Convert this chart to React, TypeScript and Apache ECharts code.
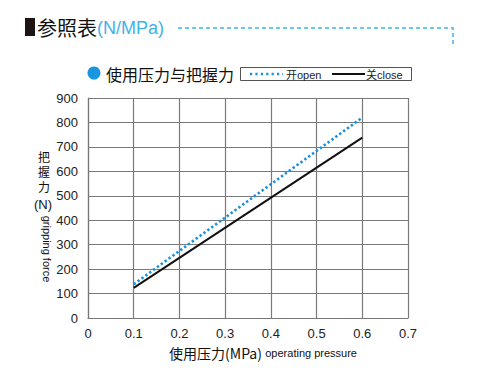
import React, { useEffect, useRef } from "react";
import * as echarts from "echarts";

const pressure = [0.1, 0.6];
const openForce = [138, 820];
const closeForce = [123, 738];
const seriesNames = ["开open", "关close"];
const xTicks = [0, 0.1, 0.2, 0.3, 0.4, 0.5, 0.6, 0.7];

const CJK = '"Noto Sans CJK SC", "Liberation Sans", sans-serif';
const SANS = '"Liberation Sans", Arial, "Noto Sans CJK SC", sans-serif';
const OPEN_COLOR = "#1a8fe0";
const OPEN_DASH = [2.4, 2.4];

export default function App() {
  const ref = useRef<HTMLDivElement>(null);
  useEffect(() => {
    if (!ref.current) return;
    const chart = echarts.init(ref.current, undefined, { renderer: "svg" });
    chart.setOption({
      animation: false,
      backgroundColor: "#fff",
      grid: { left: 88, right: 70, top: 98, bottom: 58, containLabel: false },
      xAxis: {
        type: "value",
        min: xTicks[0],
        max: xTicks[xTicks.length - 1],
        interval: 0.1,
        axisLine: { show: true, lineStyle: { color: "#777", width: 1.2 } },
        axisTick: { show: false },
        splitLine: { show: true, lineStyle: { color: "#7a7a7a", width: 1.2 } },
        axisLabel: { color: "#222", fontSize: 13, fontFamily: SANS, margin: 9 },
      },
      yAxis: {
        type: "value",
        min: 0,
        max: 900,
        interval: 100,
        axisLine: { show: true, lineStyle: { color: "#777", width: 1.2 } },
        axisTick: { show: false },
        splitLine: { show: true, lineStyle: { color: "#7a7a7a", width: 1.2 } },
        axisLabel: { color: "#222", fontSize: 13, fontFamily: SANS, margin: 10 },
      },
      series: [
        {
          name: seriesNames[0],
          type: "line",
          data: pressure.map((p, i) => [p, openForce[i]]),
          showSymbol: false,
          symbol: "none",
          lineStyle: { color: OPEN_COLOR, width: 2.6, type: OPEN_DASH },
          itemStyle: { color: OPEN_COLOR },
        },
        {
          name: seriesNames[1],
          type: "line",
          data: pressure.map((p, i) => [p, closeForce[i]]),
          showSymbol: false,
          symbol: "none",
          lineStyle: { color: "#111", width: 2 },
          itemStyle: { color: "#111" },
        },
      ],
      graphic: [
        { type: "rect", shape: { x: 25, y: 18, width: 10, height: 18 }, style: { fill: "#1e1414" } },
        {
          type: "text",
          x: 37,
          y: 27,
          style: { text: "参照表", font: `20px ${CJK}`, fill: "#111", verticalAlign: "middle" },
        },
        {
          type: "text",
          x: 97,
          y: 28,
          style: { text: "(N/MPa)", font: `18px ${SANS}`, fill: "#3fb2ea", verticalAlign: "middle" },
        },
        {
          type: "polyline",
          shape: { points: [[178, 28], [453, 28], [453, 47]] },
          style: { stroke: "#3fb2ea", lineWidth: 1.5, lineDash: [4, 3], fill: "none" },
        },
        { type: "circle", shape: { cx: 94, cy: 73, r: 6.5 }, style: { fill: "#1a96e0" } },
        {
          type: "text",
          x: 106,
          y: 74,
          style: { text: "使用压力与把握力", font: `16px ${CJK}`, fill: "#111", verticalAlign: "middle" },
        },
        // legend
        {
          type: "rect",
          shape: { x: 240.5, y: 67.5, width: 171, height: 13 },
          style: { fill: "#fff", stroke: "#555", lineWidth: 1 },
        },
        {
          type: "line",
          shape: { x1: 250, y1: 74, x2: 283, y2: 74 },
          style: { stroke: OPEN_COLOR, lineWidth: 2.4, lineDash: [2.2, 3.2] },
        },
        {
          type: "text",
          x: 286,
          y: 74.5,
          style: { text: seriesNames[0], font: `11px ${SANS}`, fill: "#222", verticalAlign: "middle" },
        },
        {
          type: "line",
          shape: { x1: 332, y1: 74, x2: 365, y2: 74 },
          style: { stroke: "#111", lineWidth: 2 },
        },
        {
          type: "text",
          x: 366,
          y: 74.5,
          style: { text: seriesNames[1], font: `11px ${SANS}`, fill: "#222", verticalAlign: "middle" },
        },
        // y-axis name
        {
          type: "text",
          x: 44,
          y: 150,
          style: {
            text: "把\n握\n力",
            font: `12px ${SANS}`,
            lineHeight: 15,
            fill: "#111",
            align: "center",
            verticalAlign: "top",
          },
        },
        {
          type: "text",
          x: 43,
          y: 204,
          style: { text: "(N)", font: `13px ${SANS}`, fill: "#111", align: "center", verticalAlign: "middle" },
        },
        {
          type: "text",
          x: 47,
          y: 249,
          rotation: -Math.PI / 2,
          style: { text: "gripping force", font: `11px ${SANS}`, fill: "#111", align: "center", verticalAlign: "middle" },
        },
        {
          type: "text",
          x: 263,
          y: 353,
          style: {
            text: "{a|使用压力(MPa)} {b|operating pressure}",
            align: "center",
            verticalAlign: "middle",
            rich: {
              a: { fontSize: 14, fontFamily: CJK, fill: "#111", color: "#111" },
              b: { fontSize: 11, fontFamily: SANS, fill: "#111", color: "#111" },
            },
          },
        },
      ],
    });
    return () => chart.dispose();
  }, []);
  return <div ref={ref} style={{ width: 478, height: 376, position: "absolute", left: 0, top: 0 }} />;
}
